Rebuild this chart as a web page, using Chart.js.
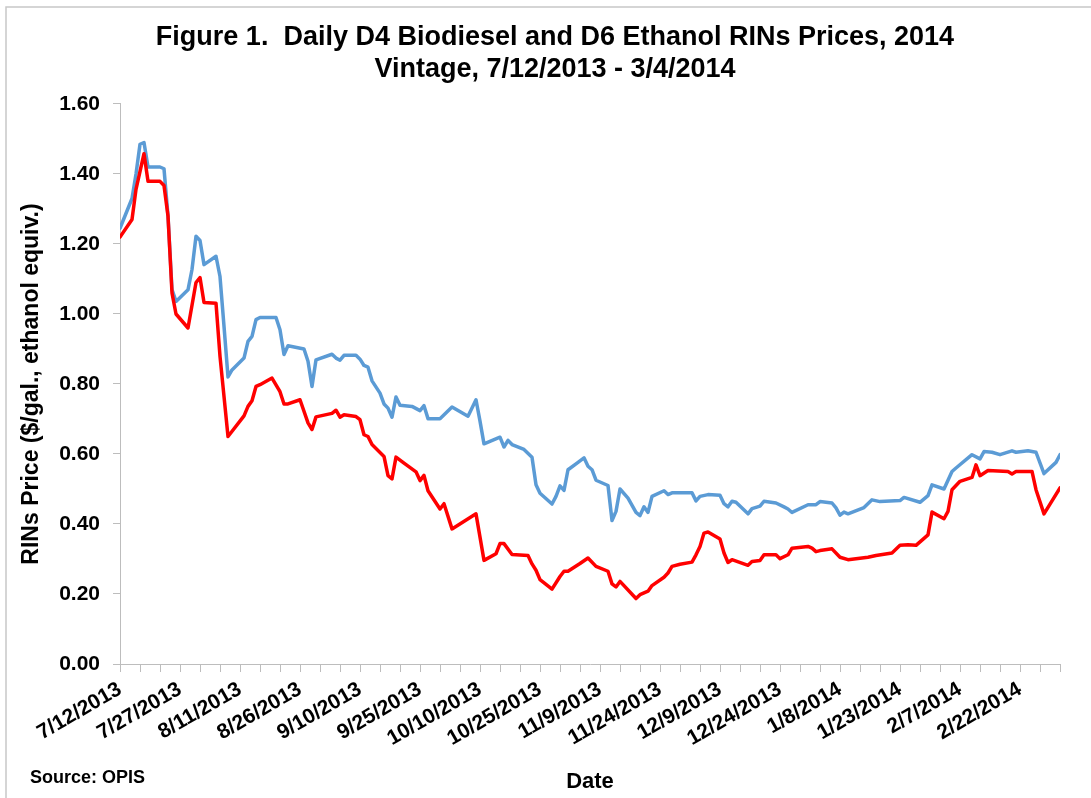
<!DOCTYPE html>
<html>
<head>
<meta charset="utf-8">
<title>Daily D4 Biodiesel and D6 Ethanol RINs Prices</title>
<script src="https://cdn.jsdelivr.net/npm/chart.js@4.4.1/dist/chart.umd.min.js"></script>
<style>
  html, body { margin: 0; padding: 0; background: #fff; }
  #wrap { width: 1091px; height: 798px; }
</style>
</head>
<body>
<div id="wrap"><canvas id="rinChart" width="1091" height="798"></canvas></div>
<script>
const FONT = "'Liberation Sans', Arial, sans-serif";
const AXIS_GREY = '#bdbdbd';

const TITLE_LINES = ['Figure 1.  Daily D4 Biodiesel and D6 Ethanol RINs Prices, 2014', 'Vintage, 7/12/2013 - 3/4/2014'];
const Y_TITLE = 'RINs Price ($/gal., ethanol equiv.)';
const X_TITLE = 'Date';
const SOURCE_NOTE = 'Source: OPIS';

// x values are days after 7/12/2013 (axis runs to 3/4/2014 = day 235)
const START_DATE = Date.UTC(2013, 6, 12);
const LAST_DAY = 235;

const d4Days = [0, 3, 4, 5, 6, 7, 10, 11, 12, 13, 14, 17, 18, 19, 20, 21, 24, 25, 26, 27,
    28, 31, 32, 33, 34, 35, 39, 40, 41, 42, 46, 47, 48, 49, 53, 54, 55, 56, 59, 60,
    61, 62, 63, 65, 66, 67, 68, 69, 70, 73, 75, 76, 77, 80, 83, 87, 89, 90, 91, 95,
    96, 97, 98, 101, 103, 104, 105, 108, 109, 110, 111, 112, 114, 116, 117, 118, 119, 122, 123, 124,
    125, 127, 129, 130, 131, 132, 133, 136, 137, 138, 143, 144, 145, 147, 150, 151, 152, 153, 154, 157,
    158, 160, 161, 164, 166, 167, 168, 172, 174, 175, 178, 179, 180, 181, 182, 186, 188, 190, 195, 196,
    200, 202, 203, 206, 208, 209, 213, 215, 216, 218, 220, 223, 224, 227, 229, 231, 234, 235];
const d4Prices = [1.245, 1.33, 1.40, 1.485, 1.49, 1.42, 1.42, 1.415, 1.28, 1.07, 1.036, 1.069, 1.127, 1.222, 1.21, 1.141, 1.165, 1.107, 0.965, 0.82,
    0.84, 0.874, 0.922, 0.936, 0.984, 0.99, 0.99, 0.955, 0.884, 0.909, 0.900, 0.865, 0.793, 0.869, 0.885, 0.874, 0.868, 0.882, 0.882, 0.871,
    0.853, 0.848, 0.809, 0.774, 0.743, 0.731, 0.705, 0.763, 0.739, 0.736, 0.724, 0.738, 0.701, 0.701, 0.734, 0.708, 0.755, 0.694, 0.629, 0.648,
    0.62, 0.639, 0.627, 0.613, 0.591, 0.512, 0.488, 0.457, 0.479, 0.509, 0.496, 0.555, 0.572, 0.589, 0.565, 0.555, 0.525, 0.51, 0.41, 0.436,
    0.50, 0.474, 0.433, 0.424, 0.449, 0.433, 0.479, 0.495, 0.484, 0.489, 0.489, 0.466, 0.479, 0.484, 0.482, 0.458, 0.449, 0.465, 0.462, 0.429,
    0.444, 0.451, 0.465, 0.46, 0.449, 0.443, 0.433, 0.455, 0.455, 0.464, 0.46, 0.446, 0.425, 0.434, 0.429, 0.447, 0.469, 0.464, 0.467, 0.476,
    0.462, 0.481, 0.512, 0.50, 0.55, 0.56, 0.598, 0.586, 0.607, 0.605, 0.598, 0.609, 0.605, 0.609, 0.605, 0.544, 0.576, 0.598];

const d6Days = [0, 3, 4, 6, 7, 10, 11, 12, 13, 14, 17, 19, 20, 21, 24, 25, 27, 31, 32, 33,
    34, 35, 38, 40, 41, 42, 45, 47, 48, 49, 53, 54, 55, 56, 59, 60, 61, 62, 63, 66,
    67, 68, 69, 71, 74, 75, 76, 77, 80, 81, 83, 89, 91, 94, 95, 96, 98, 102, 103, 104,
    105, 108, 110, 111, 112, 115, 117, 119, 122, 123, 124, 125, 129, 130, 132, 133, 136, 137, 138, 140,
    143, 144, 145, 146, 147, 150, 151, 152, 153, 157, 158, 160, 161, 164, 165, 167, 168, 172, 173, 174,
    175, 178, 180, 182, 187, 189, 193, 195, 197, 199, 202, 203, 206, 207, 208, 210, 213, 214, 215, 217,
    222, 223, 224, 228, 229, 231, 235];
const d6Prices = [1.22, 1.27, 1.356, 1.458, 1.379, 1.379, 1.367, 1.28, 1.06, 1.00, 0.96, 1.09, 1.104, 1.033, 1.031, 0.879, 0.65, 0.709, 0.736, 0.752,
    0.793, 0.798, 0.817, 0.778, 0.743, 0.743, 0.755, 0.689, 0.67, 0.706, 0.716, 0.725, 0.705, 0.712, 0.707, 0.698, 0.655, 0.65, 0.627, 0.593,
    0.538, 0.529, 0.591, 0.574, 0.549, 0.524, 0.539, 0.495, 0.443, 0.458, 0.386, 0.429, 0.296, 0.315, 0.344, 0.344, 0.313, 0.31, 0.286, 0.268,
    0.241, 0.214, 0.25, 0.265, 0.265, 0.287, 0.303, 0.279, 0.265, 0.229, 0.22, 0.236, 0.187, 0.198, 0.208, 0.224, 0.248, 0.26, 0.279, 0.285,
    0.291, 0.312, 0.336, 0.374, 0.377, 0.357, 0.317, 0.29, 0.298, 0.282, 0.293, 0.296, 0.312, 0.312, 0.301, 0.312, 0.331, 0.336, 0.331, 0.321,
    0.324, 0.329, 0.305, 0.298, 0.305, 0.31, 0.317, 0.339, 0.341, 0.339, 0.369, 0.434, 0.415, 0.436, 0.498, 0.522, 0.533, 0.569, 0.538, 0.553,
    0.55, 0.543, 0.55, 0.55, 0.498, 0.429, 0.503];

function fmtDate(day) {
    const d = new Date(START_DATE + day * 86400000);
    return (d.getUTCMonth() + 1) + '/' + d.getUTCDate() + '/' + d.getUTCFullYear();
}

function toPoints(days, prices) {
    return days.map((d, i) => ({ x: d, y: prices[i] }));
}

// thin frame round the figure and the source note under the axis
const frameAndSource = {
    id: 'frameAndSource',
    afterDraw(chart) {
        const ctx = chart.ctx;
        ctx.save();
        ctx.strokeStyle = '#c8c8c8';
        ctx.lineWidth = 1.5;
        ctx.beginPath();
        ctx.moveTo(6, chart.height);
        ctx.lineTo(6, 7);
        ctx.lineTo(chart.width, 7);
        ctx.stroke();
        ctx.fillStyle = '#000';
        ctx.font = 'bold 18px ' + FONT;
        ctx.textBaseline = 'middle';
        ctx.fillText(SOURCE_NOTE, 30, 778);
        ctx.restore();
    }
};

Chart.defaults.font.family = FONT;
Chart.defaults.color = '#000';

const ctx = document.getElementById('rinChart').getContext('2d');
new Chart(ctx, {
    type: 'line',
    data: {
        datasets: [
            {
                label: 'D4 Biodiesel',
                data: toPoints(d4Days, d4Prices),
                borderColor: '#5b9bd5',
                borderWidth: 3.5,
                pointRadius: 0,
                tension: 0,
                borderJoinStyle: 'round',
                borderCapStyle: 'round',
                order: 1
            },
            {
                label: 'D6 Ethanol',
                data: toPoints(d6Days, d6Prices),
                borderColor: '#ff0000',
                borderWidth: 3.5,
                pointRadius: 0,
                tension: 0,
                borderJoinStyle: 'round',
                borderCapStyle: 'round',
                order: 0
            }
        ]
    },
    options: {
        responsive: false,
        animation: false,
        layout: { padding: { left: 50, right: 31, top: 0, bottom: 0 } },
        plugins: {
            legend: { display: false },
            tooltip: { enabled: false },
            title: {
                display: true,
                text: TITLE_LINES,
                color: '#000',
                font: { size: 27, weight: 'bold', lineHeight: 1.17 },
                padding: { top: 22, bottom: 18.8 }
            }
        },
        scales: {
            x: {
                type: 'linear',
                min: 0,
                max: LAST_DAY,
                afterFit: (s) => { s.height = 134; },
                border: { color: AXIS_GREY, width: 1 },
                grid: { drawOnChartArea: false, color: AXIS_GREY, tickLength: 8 },
                ticks: {
                    stepSize: 5, autoSkip: false, maxTicksLimit: 100,
                    minRotation: 30, maxRotation: 30, padding: 5,
                    color: '#000', font: { size: 21, weight: 'bold' },
                    callback: (v) => (v % 15 === 0 ? fmtDate(v) : '')
                },
                title: { display: true, text: X_TITLE, color: '#000', font: { size: 22, weight: 'bold' }, padding: { top: 0, bottom: 3 } }
            },
            y: {
                min: 0,
                max: 1.6,
                afterFit: (s) => { s.width = 70; },
                border: { color: AXIS_GREY, width: 1 },
                grid: { drawOnChartArea: false, color: AXIS_GREY, tickLength: 7 },
                ticks: { stepSize: 0.2, padding: 13, color: '#000', font: { size: 21, weight: 'bold' }, callback: (v) => v.toFixed(2) },
                title: { display: true, text: Y_TITLE, color: '#000', font: { size: 23, weight: 'bold' }, padding: { top: -32, bottom: 0 } }
            }
        }
    },
    plugins: [frameAndSource]
});
</script>
</body>
</html>
